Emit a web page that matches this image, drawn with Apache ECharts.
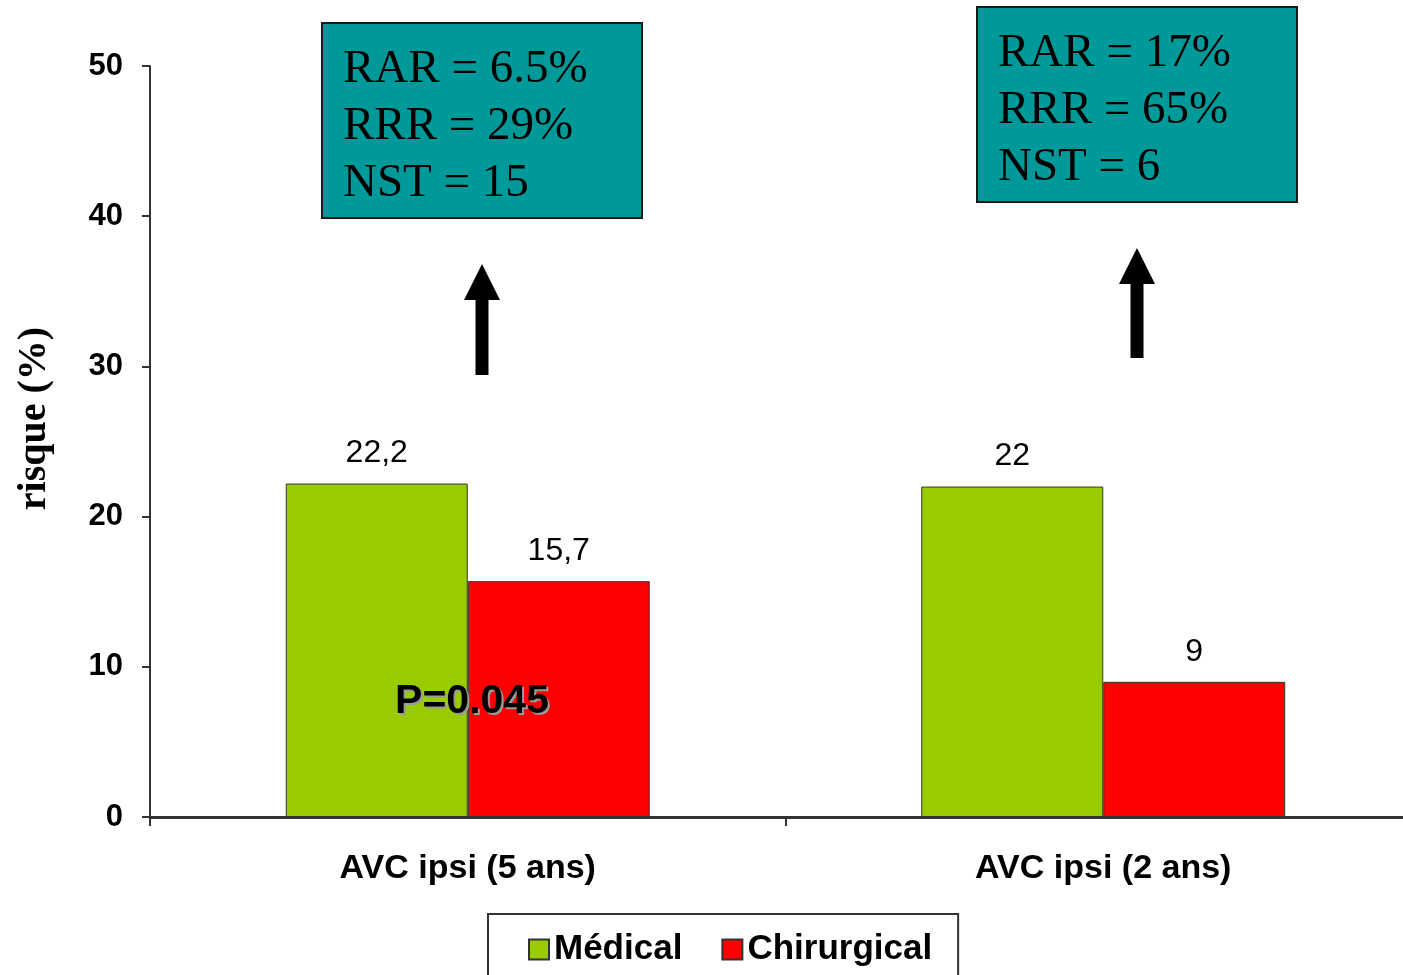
<!DOCTYPE html>
<html>
<head>
<meta charset="utf-8">
<script src="https://cdn.jsdelivr.net/npm/echarts@6/dist/echarts.min.js"></script>
<style>
  html, body { margin: 0; padding: 0; background: #fff; overflow: hidden; }
  /* the plot runs past the right edge of the page, so the canvas is slightly wider */
  #chart { width: 1421px; height: 975px; }
</style>
</head>
<body>
<div id="chart"></div>
<script>
// Ipsilateral stroke risk, medical vs surgical treatment
const categories = ['AVC ipsi (5 ans)', 'AVC ipsi (2 ans)'];
const seriesNames = ['Médical', 'Chirurgical'];
const medical = [22.2, 22];
const chirurgical = [15.7, 9];
const yTicks = { min: 0, max: 50, interval: 10 };
const boxLines = [
  ['RAR = 6.5%', 'RRR = 29%', 'NST = 15'],
  ['RAR = 17%', 'RRR = 65%', 'NST = 6']
];
const pValueText = 'P=0.045';

const chart = echarts.init(document.getElementById('chart'), null, { renderer: 'canvas' });

const labelCfg = {
  show: true,
  position: 'top',
  distance: 14,
  color: '#000',
  fontFamily: 'Liberation Sans, Arial, sans-serif',
  fontSize: 32,
  formatter: p => String(p.value).replace('.', ',')
};

// teal annotation box with three lines of serif text
function infoBox(x, y, lines) {
  return {
    type: 'group', x: x, y: y, z: 100,
    children: [
      { type: 'rect', z: 100, shape: { x: 0, y: 0, width: 320, height: 195 },
        style: { fill: '#009999', stroke: '#1a1a1a', lineWidth: 2 } },
      { type: 'text', z: 101, x: 21, y: 18,
        style: { text: lines.join('\n'), fill: '#000', lineHeight: 57,
          font: '47px "Liberation Serif", "Times New Roman", serif' } }
    ]
  };
}

// upward arrow: tip at (cx, tipY), shaft ending at bottomY
function arrow(cx, tipY, bottomY) {
  const headH = 36, headW = 18, shaftW = 6.5;
  return {
    type: 'polygon', z: 100,
    shape: { points: [
      [cx, tipY], [cx + headW, tipY + headH], [cx + shaftW, tipY + headH],
      [cx + shaftW, bottomY], [cx - shaftW, bottomY], [cx - shaftW, tipY + headH],
      [cx - headW, tipY + headH]
    ] },
    style: { fill: '#000' }
  };
}

// bold text with a grey drop shadow
function shadowText(x, y, text) {
  const font = 'bold 41px "Liberation Sans", Arial, sans-serif';
  return {
    type: 'group', x: x, y: y, z: 100,
    children: [
      { type: 'text', z: 100, x: 2, y: 2,
        style: { text: text, fill: '#9a9a9a', align: 'center', verticalAlign: 'middle', font: font } },
      { type: 'text', z: 101, x: 0, y: 0,
        style: { text: text, fill: '#000', align: 'center', verticalAlign: 'middle', font: font } }
    ]
  };
}

chart.setOption({
  animation: false,
  backgroundColor: '#fff',
  grid: { left: 150, top: 66, right: 0, bottom: 158 },
  legend: {
    data: seriesNames,
    left: 488, top: 914,
    padding: [18, 26, 40, 40],
    borderColor: '#333', borderWidth: 2,
    itemWidth: 20, itemHeight: 20, itemGap: 39,
    icon: 'rect',
    textStyle: { fontSize: 35, fontWeight: 'bold', color: '#000',
      fontFamily: 'Liberation Sans, Arial, sans-serif' }
  },
  xAxis: {
    type: 'category',
    data: categories,
    axisLine: { lineStyle: { color: '#333', width: 3 } },
    axisTick: { show: true, alignWithLabel: false, length: 9, lineStyle: { color: '#333', width: 2 } },
    axisLabel: { margin: 35, color: '#000', fontSize: 34, fontWeight: 'bold',
      fontFamily: 'Liberation Sans, Arial, sans-serif' }
  },
  yAxis: {
    type: 'value',
    min: yTicks.min, max: yTicks.max, interval: yTicks.interval,
    name: 'risque (%)',
    nameLocation: 'middle',
    nameGap: 95,
    nameRotate: 90,
    nameTextStyle: { color: '#000', fontSize: 40, fontWeight: 'bold',
      fontFamily: '"Liberation Serif", "Times New Roman", serif', padding: [0, 0, 0, 46] },
    splitLine: { show: false },
    axisLine: { show: true, lineStyle: { color: '#333', width: 2 } },
    axisTick: { show: true, length: 8, lineStyle: { color: '#333', width: 2 } },
    axisLabel: { margin: 27, color: '#000', fontSize: 31, fontWeight: 'bold',
      fontFamily: 'Liberation Sans, Arial, sans-serif' }
  },
  series: [
    { name: seriesNames[0], type: 'bar', data: medical, barWidth: 182, barGap: '0%',
      itemStyle: { color: '#99CC00', borderColor: '#333', borderWidth: 1 }, label: labelCfg },
    { name: seriesNames[1], type: 'bar', data: chirurgical, barWidth: 182, barGap: '0%',
      itemStyle: { color: '#FF0000', borderColor: '#333', borderWidth: 1 }, label: labelCfg }
  ],
  graphic: [
    infoBox(322, 23, boxLines[0]),
    infoBox(977, 7, boxLines[1]),
    arrow(482, 264, 375),
    arrow(1137, 248, 358),
    shadowText(472, 702, pValueText)
  ]
});
</script>
</body>
</html>
